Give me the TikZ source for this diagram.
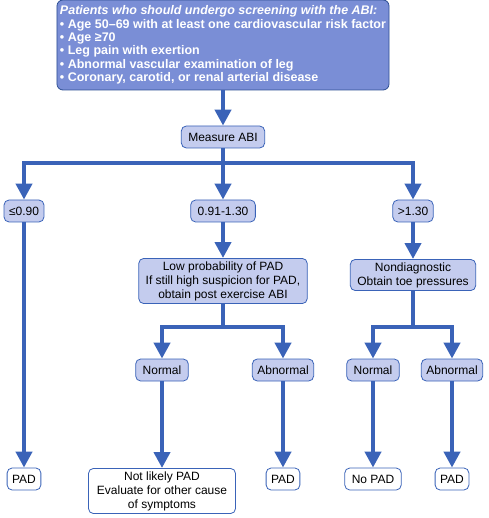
\documentclass[tikz,border=0pt]{standalone}
\usepackage{fontspec}
\setmainfont{Liberation Sans}
\usetikzlibrary{arrows.meta}
\definecolor{flowblue}{HTML}{3A63B8}
\definecolor{boxblue}{HTML}{C4CCEE}
\definecolor{headblue}{HTML}{7A8ED6}
\tikzset{
  flow/.style={draw=flowblue,line width=4pt,-{Triangle[width=16pt,length=16pt]}},
  stepbox/.style={draw=flowblue,line width=0.8pt,rounded corners=5pt,fill=boxblue,
    inner xsep=7pt,inner ysep=3pt,minimum height=22pt,font=\fontsize{12}{14}\selectfont,align=center},
  endbox/.style={stepbox,fill=white},
  headbox/.style={draw=flowblue!80!black,line width=0.8pt,rounded corners=6pt,fill=headblue,
    text=white,font=\bfseries\fontsize{12.5}{13.4}\selectfont,align=left,
    minimum width=332pt,minimum height=90pt,inner xsep=3pt}
}
\begin{document}
\begin{tikzpicture}[x=1pt,y=-1pt]
	\useasboundingbox (0,0) rectangle (488,518);
	% screening criteria
	\node[headbox] (who) at (223,45) {\textit{Patients who should undergo screening with the ABI:}\\
		• Age 50–69 with at least one cardiovascular risk factor\\
		• Age ≥70\\
		• Leg pain with exertion\\
		• Abnormal vascular examination of leg\\
		• Coronary, carotid, or renal arterial disease};
	\node[stepbox] (abi) at (223,137) {Measure ABI};
	% ABI ranges
	\node[stepbox,inner xsep=5pt] (low) at (24,211) {≤0.90};
	\node[stepbox] (mid) at (223,211) {0.91-1.30};
	\node[stepbox,inner xsep=5pt] (high) at (413,211) {>1.30};
	\node[stepbox] (lowprob) at (223,281) {Low probability of PAD\\If still high suspicion for PAD,\\obtain post exercise ABI};
	\node[stepbox] (nondiag) at (413,275) {Nondiagnostic\\Obtain toe pressures};
	% post exercise / toe pressure results
	\node[stepbox] (exnorm) at (162,370) {Normal};
	\node[stepbox,inner xsep=5pt] (exabn) at (283,370) {Abnormal};
	\node[stepbox] (toenorm) at (373,370) {Normal};
	\node[stepbox,inner xsep=5pt] (toeabn) at (452,370) {Abnormal};
	% outcomes
	\node[endbox,inner xsep=5pt] (padA) at (24,479) {PAD};
	\node[endbox,anchor=north,minimum width=147pt] (unlikely) at (162,468) {Not likely PAD\\Evaluate for other cause\\of symptoms};
	\node[endbox,inner xsep=5pt] (padB) at (283,479) {PAD};
	\node[endbox] (nopad) at (373,479) {No PAD};
	\node[endbox,inner xsep=5pt] (padC) at (452,479) {PAD};
	\coordinate (split) at (223,163);
	\coordinate (splitex) at (223,327);
	\coordinate (splittoe) at (413,327);
	% connectors
	\draw[flow] (who) -- (abi);
	\draw[flow] (abi.south) -- (split) -| (low.north);
	\draw[flow] (split) -| (high.north);
	\draw[flow] (split) -- (mid.north);
	\draw[flow] (mid) -- (lowprob);
	\draw[flow] (high) -- (nondiag);
	\draw[flow] (lowprob.south) -- (splitex) -| (exnorm.north);
	\draw[flow] (splitex) -| (exabn.north);
	\draw[flow] (nondiag.south) -- (splittoe) -| (toenorm.north);
	\draw[flow] (splittoe) -| (toeabn.north);
	\draw[flow] (low) -- (padA);
	\draw[flow] (exnorm) -- (unlikely);
	\draw[flow] (exabn) -- (padB);
	\draw[flow] (toenorm) -- (nopad);
	\draw[flow] (toeabn) -- (padC);
\end{tikzpicture}
\end{document}
